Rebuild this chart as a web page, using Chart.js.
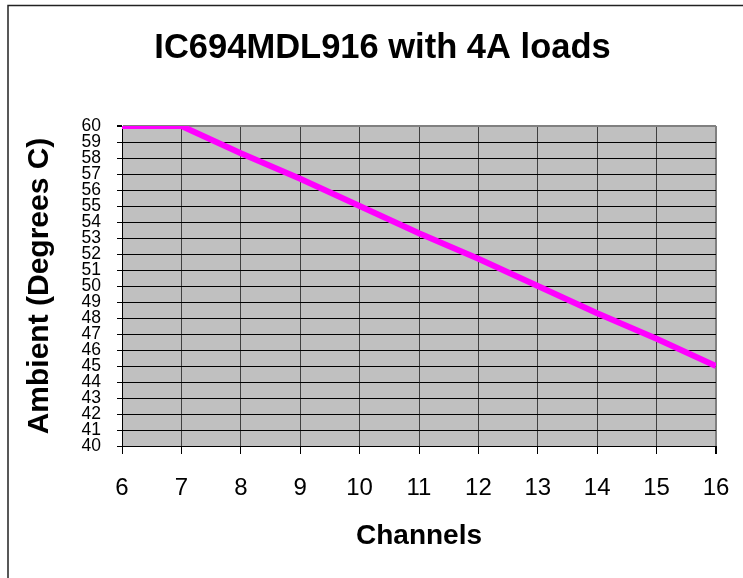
<!DOCTYPE html>
<html lang="en">
<head>
    <meta charset="UTF-8">
    <title>IC694MDL916 with 4A loads</title>
    <script src="https://cdn.jsdelivr.net/npm/chart.js"></script>
    <style>
        html, body { margin: 0; padding: 0; background: #fff; }
        #wrap { width: 743px; height: 578px; position: relative; }
    </style>
</head>
<body>
    <div id="wrap">
        <canvas id="chartLine"></canvas>
    </div>
</body>
</html>
<script>
    // valores
    const canais = ['6', '7', '8', '9', '10', '11', '12', '13', '14', '15', '16']
    const ambiente = [60, 60, 58.3, 56.7, 55, 53.3, 51.7, 50, 48.3, 46.7, 45]
    const yMin = 40
    const yMax = 60

    const fonte = "'Liberation Sans', Arial, sans-serif"

    // moldura (so esquerda e topo aparecem) e fundo cinza da area do grafico
    const fundo = {
        id: 'fundo',
        beforeDraw(chart) {
            const c = chart.ctx
            const a = chart.chartArea
            c.save()
            c.fillStyle = '#ffffff'
            c.fillRect(0, 0, chart.width, chart.height)
            c.strokeStyle = '#222222'
            c.lineWidth = 1.5
            c.beginPath()
            c.moveTo(8, chart.height)
            c.lineTo(8, 5.5)
            c.lineTo(chart.width, 5.5)
            c.stroke()
            c.fillStyle = '#c0c0c0'
            c.fillRect(a.left, a.top, a.right - a.left, a.bottom - a.top)
            c.restore()
        }
    }

    const ctx = document.getElementById('chartLine')

    const chart1 = new Chart(ctx, {
        type: 'line',
        data: {
            labels: canais,
            datasets: [{
                data: ambiente,
                borderColor: '#ff00ff',
                borderWidth: 6,
                pointRadius: 0,
                tension: 0,
                clip: 0
            }]
        },
        options: {
            responsive: true,
            maintainAspectRatio: false,
            animation: false,
            layout: {
                padding: { left: 22, right: 0, top: 0, bottom: 0 }
            },
            plugins: {
                legend: { display: false },
                tooltip: { enabled: false },
                title: {
                    display: true,
                    text: 'IC694MDL916 with 4A loads',
                    color: '#000',
                    font: { family: fonte, size: 34.5, weight: 'bold' },
                    padding: { top: 28, bottom: 56.6 }
                }
            },
            scales: {
                x: {
                    offset: false,
                    grid: {
                        color: (c) => c.index === canais.length - 1 ? '#808080' : '#404040',
                        lineWidth: (c) => c.index === canais.length - 1 ? 2 : 1,
                        tickColor: '#000',
                        tickLength: 8
                    },
                    border: { color: '#000', width: 1 },
                    ticks: {
                        color: '#000',
                        padding: 20,
                        maxRotation: 0,
                        autoSkip: false,
                        font: { family: fonte, size: 24 }
                    },
                    title: {
                        display: true,
                        text: 'Channels',
                        color: '#000',
                        font: { family: fonte, size: 28, weight: 'bold' },
                        padding: { top: 0, bottom: 25 }
                    },
                    afterFit: (s) => {
                        s.height = 132
                        s.paddingLeft = 0
                        s.paddingRight = 0
                    }
                },
                y: {
                    min: yMin,
                    max: yMax,
                    grid: {
                        color: (c) => c.tick && c.tick.value === yMax ? '#808080' : '#000',
                        lineWidth: (c) => c.tick && c.tick.value === yMax ? 2 : 1,
                        tickColor: '#000',
                        tickLength: 5
                    },
                    border: { color: '#000', width: 1 },
                    ticks: {
                        stepSize: 1,
                        autoSkip: false,
                        color: '#000',
                        padding: 16,
                        font: { family: fonte, size: 17.5 }
                    },
                    title: {
                        display: true,
                        text: 'Ambient (Degrees C)',
                        color: '#000',
                        font: { family: fonte, size: 30, weight: 'bold' },
                        padding: { top: 0, bottom: 0 }
                    },
                    afterFit: (s) => { s.width = 100 }
                },
                // eixo vazio so para deixar a margem da direita
                y2: {
                    position: 'right',
                    display: true,
                    grid: { drawOnChartArea: false, drawTicks: false, display: false },
                    border: { display: false },
                    ticks: { display: false },
                    afterFit: (s) => { s.width = 27 }
                }
            }
        },
        plugins: [fundo]
    })
</script>
